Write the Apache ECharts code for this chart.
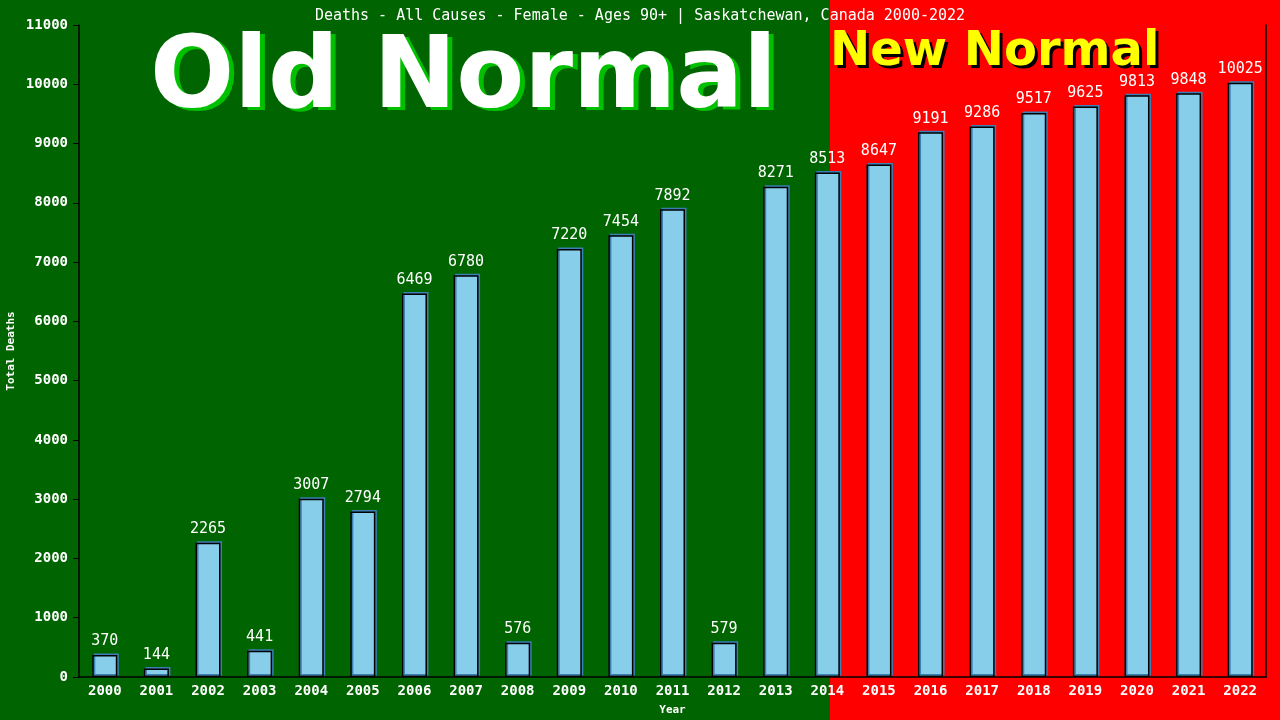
<!DOCTYPE html>
<html>
<head>
<meta charset="utf-8">
<script src="https://cdn.jsdelivr.net/npm/echarts@6/dist/echarts.min.js"></script>
<style>html,body{margin:0;padding:0;background:#006400;}#c{width:1280px;height:720px;}</style>
</head>
<body>
<div id="c"></div>
<script>
const years = ['2000','2001','2002','2003','2004','2005','2006','2007','2008','2009','2010','2011','2012','2013','2014','2015','2016','2017','2018','2019','2020','2021','2022'];
const deaths = [370,144,2265,441,3007,2794,6469,6780,576,7220,7454,7892,579,8271,8513,8647,9191,9286,9517,9625,9813,9848,10025];
const titleText = 'Deaths - All Causes - Female - Ages 90+ | Saskatchewan, Canada 2000-2022';
const yMax = 11000, yStep = 1000;

const mono = "'DejaVu Sans Mono', monospace";
const oldFont = "bold 99px 'DejaVu Sans', sans-serif";
const newFont = "bold 48px 'DejaVu Sans', sans-serif";
const chart = echarts.init(document.getElementById('c'));
chart.setOption({
  backgroundColor: '#006400',
  animation: false,
  title: {
    text: titleText, left: 'center', top: 4,
    textStyle: {color: '#fff', fontFamily: mono, fontSize: 15, fontWeight: 'normal'}
  },
  graphic: [
    {type: 'rect', left: 830, top: 0, shape: {width: 450, height: 720}, style: {fill: '#ff0000'}, z: -10, silent: true},
    {type: 'text', left: 155, top: 35, z: 1, silent: true, style: {text: 'Old Normal', fill: '#00c000', font: oldFont}},
    {type: 'text', left: 150, top: 32, z: 2, silent: true, style: {text: 'Old Normal', fill: '#ffffff', font: oldFont}},
    {type: 'text', left: 833, top: 32, z: 1, silent: true, style: {text: 'New Normal', fill: '#000000', font: newFont}},
    {type: 'text', left: 830, top: 29, z: 2, silent: true, style: {text: 'New Normal', fill: '#ffff00', font: newFont}}
  ],
  grid: {left: 79, right: 14, top: 25, bottom: 43, containLabel: false, outerBoundsMode: 'none'},
  xAxis: {
    type: 'category', data: years,
    name: 'Year', nameLocation: 'middle', nameGap: 28, nameMoveOverlap: false,
    nameTextStyle: {color: '#fff', fontFamily: mono, fontSize: 11, fontWeight: 'bold'},
    axisLine: {lineStyle: {color: '#000', width: 1.5}},
    axisTick: {show: false},
    axisLabel: {color: '#fff', fontFamily: mono, fontSize: 14, fontWeight: 'bold', margin: 7, interval: 0}
  },
  yAxis: [{
    type: 'value', min: 0, max: yMax, interval: yStep,
    name: 'Total Deaths', nameLocation: 'middle', nameGap: 62, nameMoveOverlap: false,
    nameTextStyle: {color: '#fff', fontFamily: mono, fontSize: 11, fontWeight: 'bold'},
    axisLine: {show: true, lineStyle: {color: '#000', width: 1.5}},
    axisTick: {show: true, length: 6, lineStyle: {color: '#000'}},
    splitLine: {show: false},
    axisLabel: {color: '#fff', fontFamily: mono, fontSize: 14, fontWeight: 'bold', margin: 11,
      formatter: v => String(v)}
  }, {
    type: 'value', min: 0, max: yMax, interval: yStep, position: 'right',
    axisLine: {show: true, lineStyle: {color: '#000', width: 1.5}},
    axisTick: {show: false}, axisLabel: {show: false}, splitLine: {show: false}
  }],
  series: [{
    type: 'bar', data: deaths, barWidth: 25,
    itemStyle: {
      color: '#87ceeb', borderColor: '#000', borderWidth: 1.5,
      shadowColor: '#3c7fb5', shadowOffsetX: 1.5, shadowOffsetY: -1.5, shadowBlur: 0.01
    },
    label: {show: true, position: 'top', distance: 6, color: '#fff', fontFamily: mono, fontSize: 15, fontWeight: 'normal'}
  }]
});
</script>
</body>
</html>
